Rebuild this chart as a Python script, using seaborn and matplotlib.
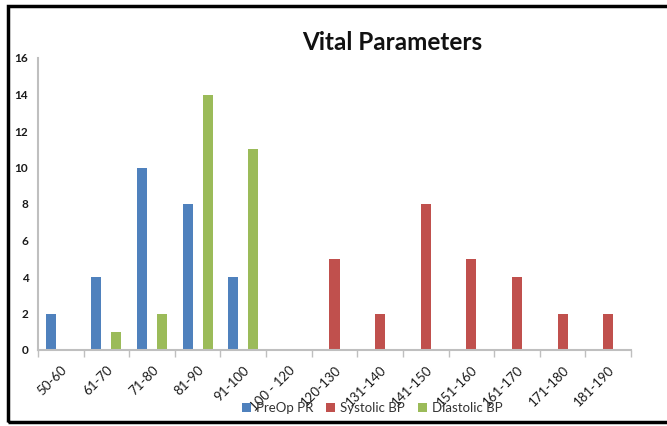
import matplotlib
matplotlib.use("Agg")
import matplotlib.pyplot as plt
from matplotlib.patches import Rectangle, Patch
import seaborn as sns
import pandas as pd
import numpy as np

# Ranges on the x axis
categories = ["50-60", "61-70", "71-80", "81-90", "91-100", "100 - 120",
              "120-130", "131-140", "141-150", "151-160", "161-170",
              "171-180", "181-190"]

# Patient counts per range
preop_pr = [2, 4, 10, 8, 4, 0, 0, 0, 0, 0, 0, 0, 0]
systolic_bp = [0, 0, 0, 0, 0, 0, 5, 2, 8, 5, 4, 2, 2]
diastolic_bp = [0, 1, 2, 14, 11, 0, 0, 0, 0, 0, 0, 0, 0]

series_names = ["PreOp PR", "Systolic BP", "Diastolic BP"]
colors = ["#4F81BD", "#C0504D", "#9BBB59"]
y_ticks = [0, 2, 4, 6, 8, 10, 12, 14, 16]

df = pd.DataFrame({
    "range": categories * 3,
    "series": sum([[n] * len(categories) for n in series_names], []),
    "count": preop_pr + systolic_bp + diastolic_bp,
})

sns.set_theme(style="white")
plt.rcParams["font.family"] = ["Lato", "DejaVu Sans"]

fig = plt.figure(figsize=(6.67, 4.26), dpi=100)
ax = fig.add_axes([38 / 667, 1 - 350 / 426, (631 - 38) / 667, (350 - 58) / 426])

sns.barplot(data=df, x="range", y="count", hue="series", order=categories,
            hue_order=series_names, palette=colors, width=0.66,
            saturation=1, linewidth=0, ax=ax, legend=False)

ax.set_xlim(-0.5, len(categories) - 0.5)
ax.set_ylim(0, 16)
ax.set_yticks(y_ticks)
ax.set_xlabel("")
ax.set_ylabel("")

for side in ["top", "right"]:
    ax.spines[side].set_visible(False)
for side in ["left", "bottom"]:
    ax.spines[side].set_color("#BFBFBF")
    ax.spines[side].set_linewidth(1.5)

ax.tick_params(axis="y", which="major", direction="out", length=4, width=1,
               color="#BFBFBF", labelsize=8.5, labelcolor="#1a1a1a", pad=3)
ax.set_yticklabels([str(v) for v in y_ticks], fontweight="bold")

# Category labels at the bar groups, tick marks at the group boundaries
ax.set_xticks(np.arange(len(categories)))
ax.set_xticklabels(categories, rotation=45, ha="right", rotation_mode="anchor",
                   fontsize=9.5, color="#1a1a1a")
ax.set_xticks(np.arange(-0.5, len(categories)), minor=True)
ax.tick_params(axis="x", which="major", length=0, pad=10)
ax.tick_params(axis="x", which="minor", direction="out", length=5, width=1,
               color="#BFBFBF", bottom=True)

fig.text(392 / 667, 1 - 42 / 426, "Vital Parameters", ha="center", va="center",
         fontsize=17.5, fontweight="bold", color="#111111")

handles = [Patch(facecolor=c, edgecolor="none") for c in colors]
fig.legend(handles, series_names, loc="center", ncol=3,
           bbox_to_anchor=(372 / 667, 1 - 408 / 426), frameon=False,
           fontsize=9.5, handlelength=0.7, handleheight=0.7,
           handletextpad=0.35, columnspacing=1.0, labelcolor="#333333")

# Outer frame around the chart area
fig.patches.append(Rectangle((8 / 667, 4 / 426), 1.2, 1 - 10 / 426,
                             transform=fig.transFigure, fill=False,
                             edgecolor="black", linewidth=2.5, zorder=10))

fig.savefig("out.png", dpi=100)
